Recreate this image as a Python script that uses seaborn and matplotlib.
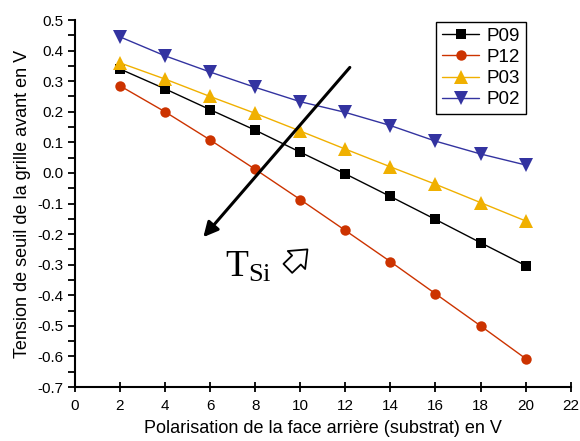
import numpy as np
import pandas as pd
import seaborn as sns
import matplotlib.pyplot as plt
from matplotlib.ticker import MultipleLocator

# back-side bias (V)
bias = [2, 4, 6, 8, 10, 12, 14, 16, 18, 20]

# threshold voltage of the front gate (V)
p09 = [0.340, 0.275, 0.207, 0.140, 0.068, -0.003, -0.077, -0.152, -0.228, -0.303]
p12 = [0.285, 0.200, 0.108, 0.012, -0.087, -0.188, -0.290, -0.395, -0.500, -0.607]
p03 = [0.360, 0.307, 0.250, 0.195, 0.137, 0.078, 0.020, -0.037, -0.097, -0.157]
p02 = [0.445, 0.383, 0.330, 0.280, 0.233, 0.198, 0.155, 0.104, 0.062, 0.026]

series = ["P09", "P12", "P03", "P02"]
colors = {"P09": "#000000", "P12": "#cc3300", "P03": "#f0b000", "P02": "#3333a0"}
markers = {"P09": "s", "P12": "o", "P03": "^", "P02": "v"}

frames = []
for name, vals in zip(series, [p09, p12, p03, p02]):
    frames.append(pd.DataFrame({"bias": bias, "vth": vals, "sample": name}))
df = pd.concat(frames, ignore_index=True)

sns.set_style("ticks", {"axes.edgecolor": "black", "text.color": "black",
                        "xtick.color": "black", "ytick.color": "black",
                        "axes.labelcolor": "black"})
plt.rcParams["font.family"] = ["Liberation Sans", "DejaVu Sans"]
plt.rcParams["mathtext.fontset"] = "custom"
plt.rcParams["mathtext.rm"] = "Liberation Serif"
plt.rcParams["mathtext.it"] = "Liberation Serif:italic"

fig = plt.figure(figsize=(5.8, 4.41), dpi=100)
ax = fig.add_axes([0.129, 0.1224, 0.855, 0.8322])

sns.lineplot(data=df, x="bias", y="vth", hue="sample", style="sample",
             hue_order=series, style_order=series, palette=colors,
             markers=markers, dashes=False, markersize=7.5,
             markeredgewidth=0, linewidth=1.0, ax=ax)

# triangles look smaller than squares/circles at the same size
for ln in ax.lines:
    if ln.get_marker() in ("^", "v"):
        ln.set_markersize(9.5)

ax.set_xlim(0, 22)
ax.set_ylim(-0.7, 0.5)
ax.xaxis.set_major_locator(MultipleLocator(2))
ax.yaxis.set_major_locator(MultipleLocator(0.1))
ax.yaxis.set_minor_locator(MultipleLocator(0.05))
ax.yaxis.set_major_formatter(plt.FuncFormatter(lambda v, p: f"{v:.1f}"))
ax.tick_params(axis="x", direction="inout", length=7, width=1.3, labelsize=11, pad=5)
ax.tick_params(axis="y", which="both", direction="out", length=5, width=1.3, labelsize=11)
sns.despine(ax=ax)
for s in ["left", "bottom"]:
    ax.spines[s].set_linewidth(1.5)

ax.set_xlabel("Polarisation de la face arrière (substrat) en V", fontsize=13, labelpad=5)
ax.set_ylabel("Tension de seuil de la grille avant en V", fontsize=13, labelpad=4)

sns.move_legend(ax, "upper right", bbox_to_anchor=(0.91, 0.995), title=None,
                frameon=True, fancybox=False, edgecolor="black", framealpha=1,
                fontsize=13.5, handlelength=2.0, labelspacing=0.22,
                borderpad=0.3, handletextpad=0.4, borderaxespad=0)
leg = ax.get_legend()
leg.get_frame().set_linewidth(1.0)
for h in leg.legend_handles:
    if h.get_marker() in ("^", "v"):
        h.set_markersize(9.5)

# temperature arrow
ax.annotate("", xy=(5.7, -0.21), xytext=(12.2, 0.345),
            arrowprops=dict(arrowstyle="-|>", lw=2.2, color="black",
                            mutation_scale=22, shrinkA=0, shrinkB=0))
ax.text(6.65, -0.34, r"$\mathrm{T_{Si}}$", fontsize=27, ha="left", va="baseline")
ax.annotate("", xy=(10.32, -0.25), xytext=(9.45, -0.312),
            arrowprops=dict(arrowstyle="simple,head_length=0.55,head_width=0.9,tail_width=0.45",
                            fc="white", ec="black", lw=1.3, mutation_scale=20,
                            shrinkA=0, shrinkB=0))

fig.savefig("out.png", dpi=100)
